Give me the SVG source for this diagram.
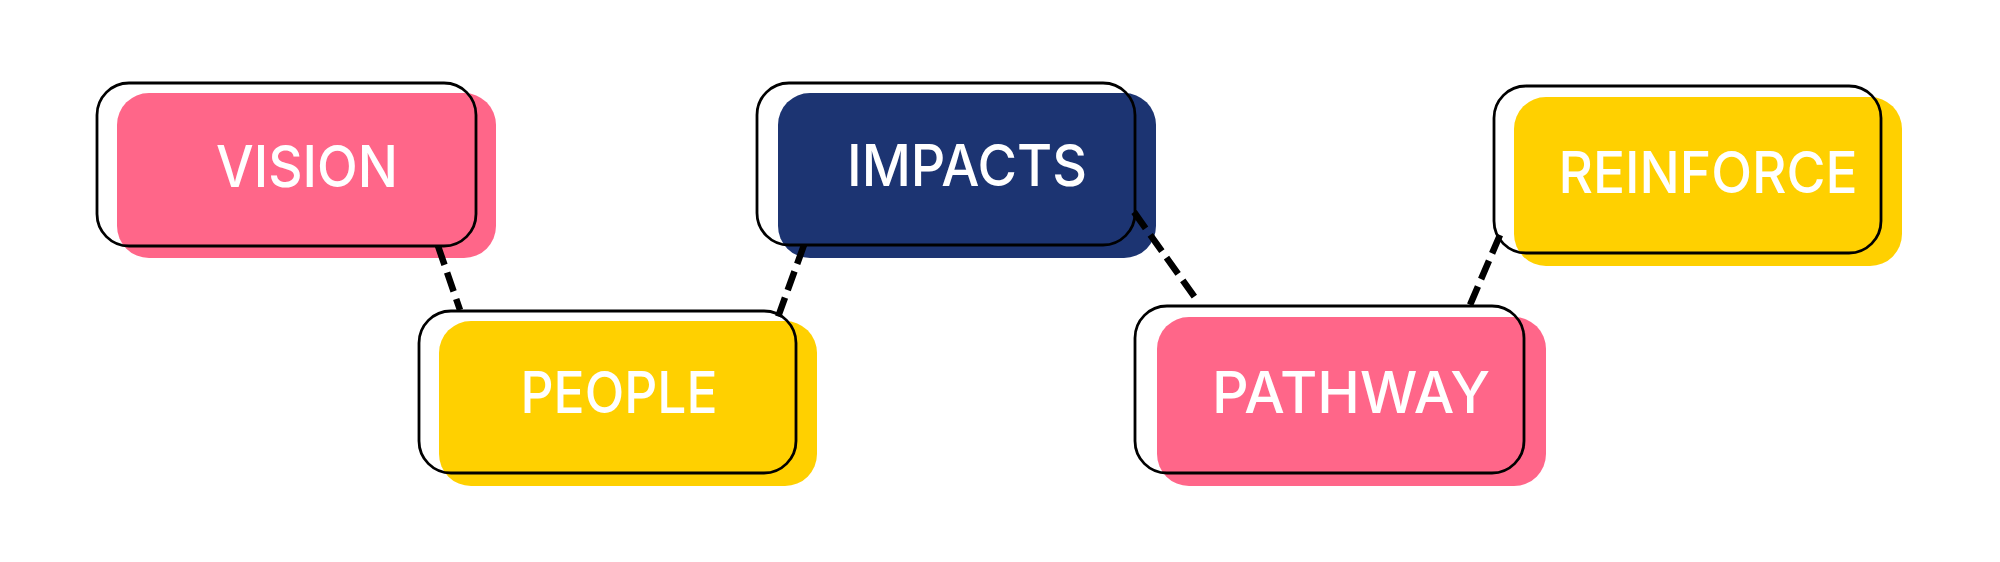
<svg xmlns="http://www.w3.org/2000/svg" width="2000" height="562" viewBox="0 0 2000 562">
<style>
.pink{fill:#FF6689}
.navy{fill:#1C3472}
.yellow{fill:#FFD000}
.outline{fill:none;stroke:#000;stroke-width:2.8}
.label{fill:#fff;font-family:Inter,"Noto Sans","Liberation Sans",sans-serif;font-weight:500;font-size:57px;text-anchor:middle}
.conn{stroke:#000;stroke-width:6.5;stroke-dasharray:20 8;fill:none}
</style>
<rect width="2000" height="562" fill="#fff"/>
<g id="vision">
<rect class="pink" x="117" y="93" width="379" height="165" rx="32"/>
<rect class="outline" x="97" y="83" width="379" height="163" rx="32"/>
<text class="label" x="307" y="187" textLength="182" lengthAdjust="spacingAndGlyphs">VISION</text>
</g>
<g id="people">
<rect class="yellow" x="439" y="321" width="378" height="165" rx="32"/>
<rect class="outline" x="419" y="311" width="377" height="162" rx="32"/>
<text class="label" x="619" y="413" textLength="197" lengthAdjust="spacingAndGlyphs">PEOPLE</text>
</g>
<g id="impacts">
<rect class="navy" x="778" y="93" width="378" height="165" rx="32"/>
<rect class="outline" x="757" y="83" width="378" height="162" rx="32"/>
<text class="label" x="967" y="186" textLength="240" lengthAdjust="spacingAndGlyphs">IMPACTS</text>
</g>
<g id="pathway">
<rect class="pink" x="1157" y="317" width="389" height="169" rx="32"/>
<rect class="outline" x="1135" y="306" width="389" height="167" rx="32"/>
<text class="label" x="1351" y="413" textLength="278" lengthAdjust="spacingAndGlyphs">PATHWAY</text>
</g>
<g id="reinforce">
<rect class="yellow" x="1514" y="97" width="388" height="169" rx="32"/>
<rect class="outline" x="1494" y="86" width="387" height="167" rx="32"/>
<text class="label" x="1708" y="193" textLength="299" lengthAdjust="spacingAndGlyphs">REINFORCE</text>
</g>
<g id="connectors">
<line class="conn" x1="438" y1="246" x2="460" y2="310"/>
<line class="conn" x1="804" y1="245" x2="778" y2="317"/>
<line class="conn" x1="1134" y1="212" x2="1196" y2="299"/>
<line class="conn" x1="1500" y1="235" x2="1470" y2="305"/>
</g>
</svg>
